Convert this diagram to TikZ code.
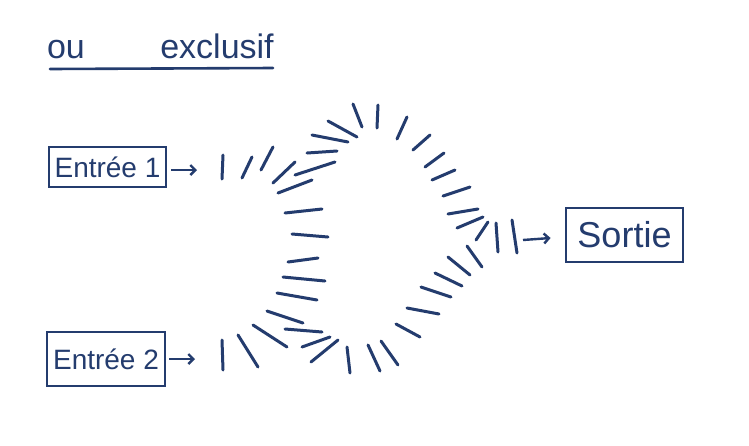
\documentclass[tikz,border=0pt]{standalone}
\usepackage{fontspec}
\setmainfont{Liberation Sans}
\usetikzlibrary{arrows.meta}
\definecolor{ink}{RGB}{36,60,110}
\tikzset{
  inkbox/.style={draw=ink, line width=2.8pt, inner sep=0pt, text=ink},
  inkarrow/.style={draw=ink, line width=2.4pt, -{Straight Barb[length=5pt,width=10pt,line width=2.4pt]}},
  dashmark/.style={draw=ink, line width=3pt, line cap=round},
  titletext/.style={text=ink, inner sep=0pt, anchor=base, font=\fontsize{34}{40}\selectfont}
}
\begin{document}
\begin{tikzpicture}[x=1pt,y=-1pt]
\useasboundingbox (0,0) rectangle (749,445);
\fill[white] (0,0) rectangle (749,445);
% title
\node[titletext] (t1) at (66,58) {ou};
\node[titletext] (t2) at (217,58) {exclusif};
\draw[draw=ink, line width=2.6pt, line cap=round] (50,69) -- (273,68);
% boxes
\node[inkbox, minimum width=117pt, minimum height=40pt, font=\fontsize{28}{32}\selectfont] (e1) at (107.5,167) {Entrée 1};
\node[inkbox, minimum width=118pt, minimum height=54pt, font=\fontsize{28}{32}\selectfont] (e2) at (106,359) {Entrée 2};
\node[inkbox, minimum width=117pt, minimum height=54pt, font=\fontsize{36}{40}\selectfont] (so) at (624.5,235) {Sortie};
% arrows
\coordinate (a1) at (197,170);
\coordinate (a2) at (195,359);
\coordinate (s0) at (523,240);
\draw[inkarrow] ([xshift=4pt]e1.east |- a1) -- (a1);
\draw[inkarrow] ([xshift=3pt]e2.east |- a2) -- (a2);
\draw[inkarrow] (s0) -- ([xshift=-14pt]so.west |- 0,238);
% dashes
\foreach \ax/\ay/\bx/\by in {
 223/155/222/179, 252/157/242/178, 273/147/261/170, 295/162/273/183,
 335/162/295/175, 337/151/307/153, 312/180/278/193, 348/142/312/135,
 357/137/328/121, 362/127/353/104, 378/105/377/128, 407/117/397/139,
 430/135/413/150, 444/153/425/167, 455/170/432/180, 470/187/443/196,
 478/209/448/214, 483/217/457/228, 488/222/476/240, 496/223/498/252,
 512/220/517/253,
 322/209/285/213, 328/237/292/234, 318/258/288/262, 325/281/283/277,
 317/300/277/293, 303/323/267/311, 287/347/253/325, 258/367/238/335,
 222/340/223/370, 322/332/285/329, 330/337/302/347, 338/340/311/362,
 347/347/350/373, 368/345/380/371, 381/341/398/365, 396/324/420/337,
 407/308/439/314, 421/287/451/297, 435/273/462/286, 448/257/470/275,
 467/246/482/267}
 \draw[dashmark] (\ax,\ay) -- (\bx,\by);
\end{tikzpicture}
\end{document}
